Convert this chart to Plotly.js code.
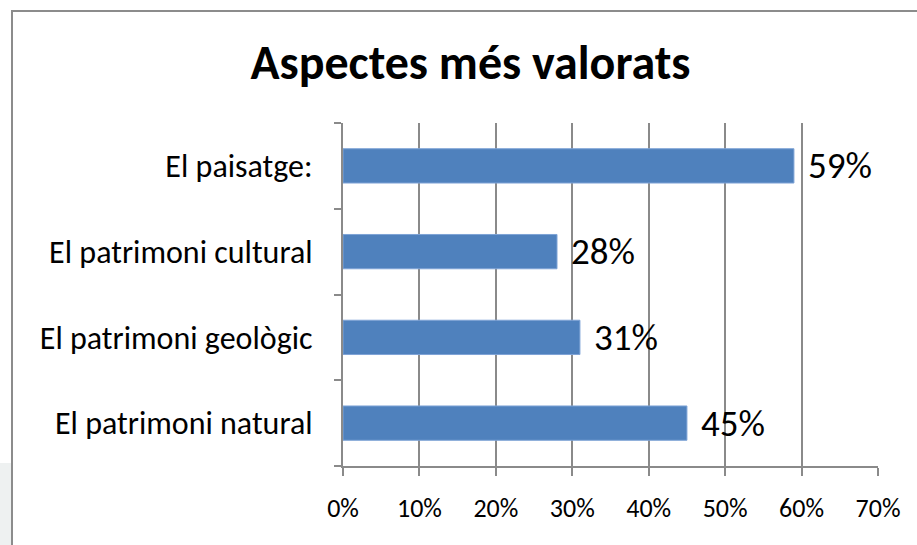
<!DOCTYPE html>
<html>
<head>
<meta charset="utf-8">
<script src="https://cdn.plot.ly/plotly-3.0.1.min.js"></script>
<style>
html,body{margin:0;padding:0;background:#fff;overflow:hidden;}
#frame{position:absolute;left:11px;top:10px;width:920px;height:560px;border-left:2px solid #8c8c8c;border-top:2px solid #8c8c8c;box-sizing:border-box;}
#side{position:absolute;left:0;top:463px;width:11px;height:82px;background:#eef1f1;}
#chart{position:absolute;left:0;top:0;width:917px;height:545px;}
</style>
</head>
<body>
<div id="side"></div>
<div id="chart"></div>
<div id="frame"></div>
<script>
const categories = ["El patrimoni natural", "El patrimoni geològic", "El patrimoni cultural", "El paisatge:"];
const values = [0.45, 0.31, 0.28, 0.59];
const valueLabels = ["45%", "31%", "28%", "59%"];
const xTickVals = [0, 0.1, 0.2, 0.3, 0.4, 0.5, 0.6, 0.7];
const xTickText = ["0%", "10%", "20%", "30%", "40%", "50%", "60%", "70%"];

const font = "Carlito, Calibri, 'Open Sans', sans-serif";

const trace = {
  type: "bar",
  orientation: "h",
  y: categories,
  x: values,
  marker: {color: "#4f81bd", line: {color: "#7ea3d6", width: 1}},
  hoverinfo: "none"
};

const annotations = categories.map((c, i) => ({
  x: values[i], y: c, xref: "x", yref: "y",
  text: valueLabels[i], showarrow: false,
  xanchor: "left", yanchor: "middle", xshift: 12, yshift: 0,
  font: {family: font, size: 37, color: "#000"}
}));

const layout = {
  width: 917, height: 545,
  paper_bgcolor: "rgba(0,0,0,0)", plot_bgcolor: "rgba(0,0,0,0)",
  margin: {l: 343, r: 39, t: 123, b: 79, pad: 0},
  title: {text: "<b>Aspectes més valorats</b>", x: 0.513, xanchor: "center", y: 0.885, yanchor: "middle",
          font: {family: font, size: 48, color: "#000"}},
  bargap: 0.6,
  showlegend: false,
  xaxis: {
    range: [0, 0.7], tickvals: xTickVals, ticktext: xTickText,
    showgrid: true, gridcolor: "#8a8a8a", gridwidth: 2,
    showline: true, linecolor: "#8a8a8a", linewidth: 2,
    ticks: "outside", ticklen: 8, tickcolor: "#8a8a8a", tickwidth: 2,
    tickfont: {family: font, size: 26, color: "#000"},
    ticklabelstandoff: 10,
    zeroline: false, mirror: false, fixedrange: true
  },
  yaxis: {
    type: "category", categoryorder: "array", categoryarray: categories,
    showline: true, linecolor: "#8a8a8a", linewidth: 2,
    ticks: "outside", ticklen: 7, tickcolor: "#8a8a8a", tickwidth: 2,
    tickson: "boundaries",
    showgrid: false,
    tickfont: {family: font, size: 32, color: "#000"},
    ticklabelstandoff: 22,
    fixedrange: true
  },
  annotations: annotations
};

Plotly.newPlot("chart", [trace], layout, {displayModeBar: false, staticPlot: true});
</script>
</body>
</html>
